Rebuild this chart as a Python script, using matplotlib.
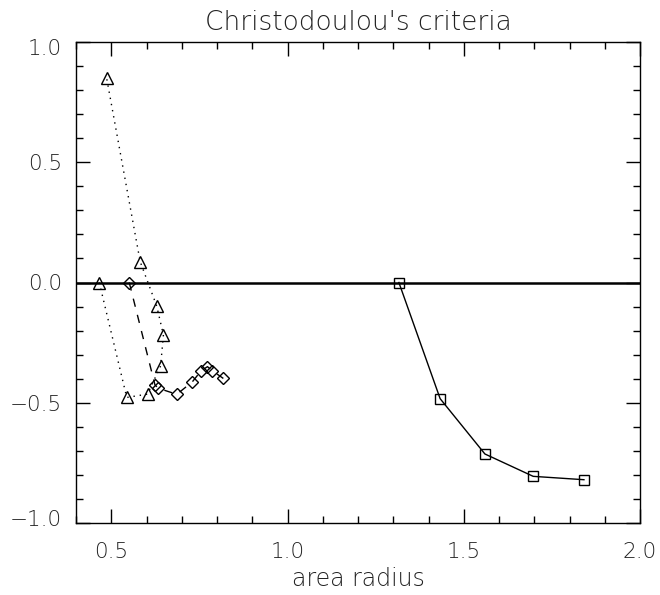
import matplotlib
matplotlib.use("Agg")
import matplotlib.pyplot as plt
import matplotlib.transforms as mtransforms
from matplotlib.ticker import MultipleLocator

# Data
tri_x = [0.466, 0.544, 0.603, 0.640, 0.648, 0.629, 0.582, 0.487]
tri_y = [0.000, -0.478, -0.464, -0.347, -0.218, -0.098, 0.087, 0.849]

dia_x = [0.551, 0.624, 0.634, 0.686, 0.730, 0.755, 0.773, 0.787, 0.818]
dia_y = [0.000, -0.426, -0.440, -0.465, -0.413, -0.367, -0.350, -0.367, -0.399]

sq_x = [1.316, 1.433, 1.560, 1.697, 1.841]
sq_y = [0.000, -0.483, -0.713, -0.806, -0.820]

x_ticks = [0.5, 1.0, 1.5, 2.0]
y_ticks = [-1.0, -0.5, 0.0, 0.5, 1.0]

plt.rcParams['font.family'] = ['DejaVu Sans']

fig = plt.figure(figsize=(6.6, 5.95), dpi=100)
ax = fig.add_axes([76/660, 1 - 523/595, (640-76)/660, (523-42)/595])

ax.axhline(0.0, color='black', lw=1.8, zorder=1)

ax.plot(tri_x, tri_y, linestyle=(0, (1, 3.5)), color='black', lw=1.0,
        marker='^', markersize=8, fillstyle='none', markeredgewidth=1.0,
        markeredgecolor='black', zorder=3)
ax.plot(dia_x, dia_y, linestyle=(0, (6, 6)), color='black', lw=1.0,
        marker='D', markersize=6.5, fillstyle='none', markeredgewidth=1.0,
        markeredgecolor='black', zorder=3)
ax.plot(sq_x, sq_y, linestyle='-', color='black', lw=1.0,
        marker='s', markersize=7, fillstyle='none', markeredgewidth=1.0,
        markeredgecolor='black', zorder=3)

ax.set_xlim(0.4, 2.0)
ax.set_ylim(-1.0, 1.0)
ax.set_xticks(x_ticks)
ax.set_yticks(y_ticks)
ax.set_xticklabels([f"{v:.1f}" for v in x_ticks])
ax.set_yticklabels([f"{v:.1f}".replace('-', '\u2212') for v in y_ticks])
ax.xaxis.set_minor_locator(MultipleLocator(0.1))
ax.yaxis.set_minor_locator(MultipleLocator(0.1))

ax.tick_params(which='both', direction='in', top=True, right=True,
               width=1.0, color='black', labelsize=15.5, labelcolor='#222222')
ax.tick_params(which='major', length=10)
ax.tick_params(which='minor', length=5)
ax.tick_params(axis='x', which='major', pad=14)
ax.tick_params(axis='y', which='major', pad=10)

for s in ax.spines.values():
    s.set_linewidth(1.0)
    s.set_color('black')

for lab in ax.get_xticklabels() + ax.get_yticklabels():
    lab.set_fontweight('light')

# IDL-style: outermost y labels nudged inward
ylabs = ax.get_yticklabels()
ylabs[0].set_transform(ylabs[0].get_transform() +
                       mtransforms.ScaledTranslation(0, 5/100, fig.dpi_scale_trans))
ylabs[-1].set_transform(ylabs[-1].get_transform() +
                        mtransforms.ScaledTranslation(0, -5/100, fig.dpi_scale_trans))

ax.set_title("Christodoulou's criteria", fontsize=19, fontweight='light',
             color='#222222', pad=9)
ax.set_xlabel("area radius", fontsize=17, fontweight='light',
              color='#222222', labelpad=3)

fig.savefig("out.png", dpi=100)
